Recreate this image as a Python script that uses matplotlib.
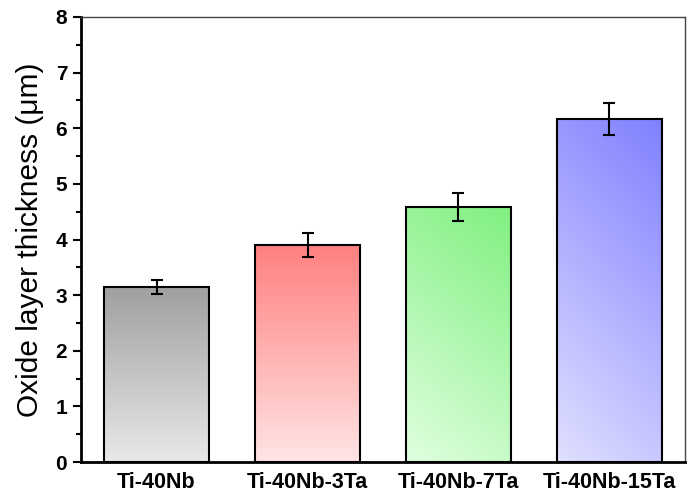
import matplotlib
matplotlib.use("Agg")
import matplotlib.pyplot as plt
import numpy as np
from matplotlib.colors import LinearSegmentedColormap

plt.rcParams['font.family'] = ['Liberation Sans', 'DejaVu Sans']

alloys = ['Ti-40Nb', 'Ti-40Nb-3Ta', 'Ti-40Nb-7Ta', 'Ti-40Nb-15Ta']
thickness = [3.15, 3.90, 4.59, 6.17]
err = [0.13, 0.21, 0.25, 0.29]
top_colors = ['#a0a0a0', '#ff8080', '#80f080', '#8080ff']
bottom_colors = ['#e8e8e8', '#ffe4e4', '#e0ffe0', '#e0e0ff']
diagonal = [False, False, True, True]

fig = plt.figure(figsize=(6.87, 4.98), dpi=100)
ax = fig.add_axes([0.118, 0.072, 0.879, 0.894])

x = np.arange(len(alloys))
bars = ax.bar(x, thickness, width=0.7, facecolor='none', edgecolor='black', linewidth=1.5, zorder=3)

# gradient fill for each bar, clipped to the bar rectangle
for b, c1, c2, dg in zip(bars, top_colors, bottom_colors, diagonal):
    cmap = LinearSegmentedColormap.from_list('g', [c2, c1])
    x0, y0 = b.get_x(), b.get_y()
    w, h = b.get_width(), b.get_height()
    yy, xx = np.mgrid[0:1:100j, 0:1:100j]
    if dg:
        grad = 0.75 * yy + 0.25 * xx
    else:
        grad = yy
    im = ax.imshow(grad, cmap=cmap, origin='lower', extent=[x0, x0 + w, y0, y0 + h],
                   aspect='auto', zorder=2, vmin=0, vmax=1)
    im.set_clip_path(b)

ax.errorbar(x, thickness, yerr=err, fmt='none', ecolor='black', elinewidth=1.5,
            capsize=4, capthick=1.5, zorder=4)

ax.set_xlim(-0.5, 3.5)
ax.set_ylim(0, 8)
ax.set_xticks(x)
ax.set_xticklabels(alloys, fontsize=15.5, fontweight='bold')
ax.set_yticks(range(0, 9))
ax.set_yticks(np.arange(0.5, 8, 1), minor=True)
ax.tick_params(axis='y', which='major', direction='out', length=6, width=1.5, labelsize=15, pad=4)
ax.tick_params(axis='y', which='minor', direction='out', length=3.5, width=1.5)
ax.tick_params(axis='x', length=0, pad=7)
for t in ax.get_yticklabels():
    t.set_fontweight('bold')
ax.set_ylabel('Oxide layer thickness (\u03bcm)', fontsize=21.5, labelpad=8)

ax.spines['left'].set_linewidth(2)
ax.spines['bottom'].set_linewidth(2)
ax.spines['top'].set_linewidth(1)
ax.spines['right'].set_linewidth(1)
ax.spines['top'].set_color('#444444')
ax.spines['right'].set_color('#444444')

fig.savefig('out.png', dpi=100)
